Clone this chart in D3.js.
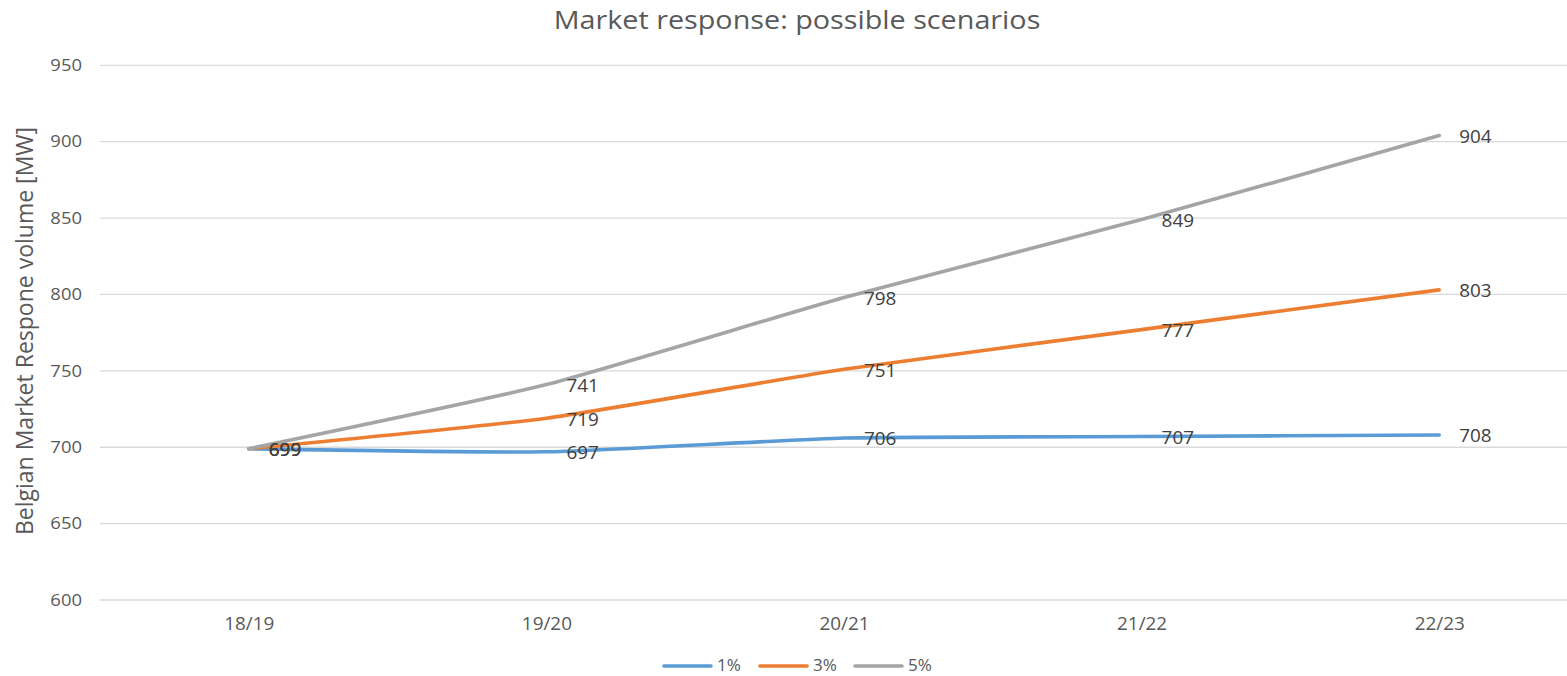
<!DOCTYPE html>
<html>
<head>
<meta charset="utf-8">
<script src="https://cdn.jsdelivr.net/npm/d3@7"></script>
<style>
  html, body { margin: 0; padding: 0; background: #fff; overflow: hidden; }
  svg { display: block; font-family: "Open Sans", "Noto Sans", sans-serif; }
</style>
</head>
<body>
<svg id="chart" width="1567" height="676"></svg>
<script>
// Market response volume per scenario (MW)
const categories = ["18/19", "19/20", "20/21", "21/22", "22/23"];
const seriesNames = ["1%", "3%", "5%"];
const values1 = [699, 697, 706, 707, 708];
const values3 = [699, 719, 751, 777, 803];
const values5 = [699, 741, 798, 849, 904];
const yTicks = [600, 650, 700, 750, 800, 850, 900, 950];
const colors = ["#5B9BD5", "#ED7D31", "#A5A5A5"];

const series = [
  { name: seriesNames[0], values: values1, color: colors[0] },
  { name: seriesNames[1], values: values3, color: colors[1] },
  { name: seriesNames[2], values: values5, color: colors[2] }
];

const svg = d3.select("#chart");
const plot = { left: 100, right: 1588, top: 65.3, bottom: 600 };

const x = d3.scalePoint().domain(categories).range([plot.left, plot.right]).padding(0.5);
const y = d3.scaleLinear().domain([600, 950]).range([plot.bottom, plot.top]);

// Title (slightly widened face)
svg.append("text")
  .attr("transform", "translate(797,29) scale(1.15,1)")
  .attr("text-anchor", "middle")
  .attr("fill", "#595959")
  .style("font-size", "25px")
  .text("Market response: possible scenarios");

// Gridlines
svg.append("g")
  .selectAll("line")
  .data(yTicks)
  .join("line")
  .attr("x1", plot.left).attr("x2", plot.right)
  .attr("y1", d => y(d)).attr("y2", d => y(d))
  .attr("stroke", "#D9D9D9")
  .attr("stroke-width", 1.3);

// Y axis labels
const yAxis = d3.axisLeft(y).tickValues(yTicks).tickSize(0).tickPadding(0);
const gy = svg.append("g").attr("transform", "translate(82,0)").call(yAxis);
gy.select(".domain").remove();
gy.selectAll("text")
  .attr("fill", "#595959")
  .attr("transform", "scale(1.12,1)")
  .style("font-size", "16.5px")
  .style("font-family", "\"Open Sans\", sans-serif");

// X axis labels
const xAxis = d3.axisBottom(x).tickSize(0).tickPadding(0);
const gx = svg.append("g").attr("transform", "translate(0,618)").call(xAxis);
gx.select(".domain").remove();
gx.selectAll("text")
  .attr("fill", "#595959")
  .attr("transform", "scale(1.08,1)")
  .style("font-size", "17.5px")
  .style("font-family", "\"Open Sans\", sans-serif");

// Y axis title
svg.append("text")
  .attr("transform", "translate(33,331) rotate(-90)")
  .attr("text-anchor", "middle")
  .attr("fill", "#595959")
  .style("font-size", "23px")
  .text("Belgian Market Respone volume [MW]");

// Lines (lightly smoothed)
const line = d3.line()
  .x((d, i) => x(categories[i]))
  .y(d => y(d))
  .curve(d3.curveCardinal.tension(0.5));

svg.append("g")
  .selectAll("path")
  .data(series)
  .join("path")
  .attr("d", d => line(d.values))
  .attr("fill", "none")
  .attr("stroke", d => d.color)
  .attr("stroke-width", 3.6)
  .attr("stroke-linecap", "round")
  .attr("stroke-linejoin", "round");

// Data labels, placed right of each point
const labels = svg.append("g");
series.forEach(s => {
  labels.selectAll(null)
    .data(s.values)
    .join("text")
    .attr("transform", (d, i) => `translate(${x(categories[i]) + 20},${y(d)}) scale(1.08,1)`)
    .attr("dy", "0.42em")
    .attr("fill", "#404040")
    .style("font-size", "17.5px")
    .text(d => d);
});

// Legend
const legend = svg.append("g").attr("transform", "translate(0,666)");
const legendX = [664, 760, 855];
series.forEach((s, i) => {
  const g = legend.append("g").attr("transform", `translate(${legendX[i]},0)`);
  g.append("line")
    .attr("x1", 0).attr("x2", 47)
    .attr("stroke", s.color).attr("stroke-width", 3.6)
    .attr("stroke-linecap", "round");
  g.append("text")
    .attr("transform", "translate(53,0) scale(1.1,1)")
    .attr("dy", "0.35em")
    .attr("fill", "#595959")
    .style("font-size", "15.5px")
    .text(s.name);
});
</script>
</body>
</html>
